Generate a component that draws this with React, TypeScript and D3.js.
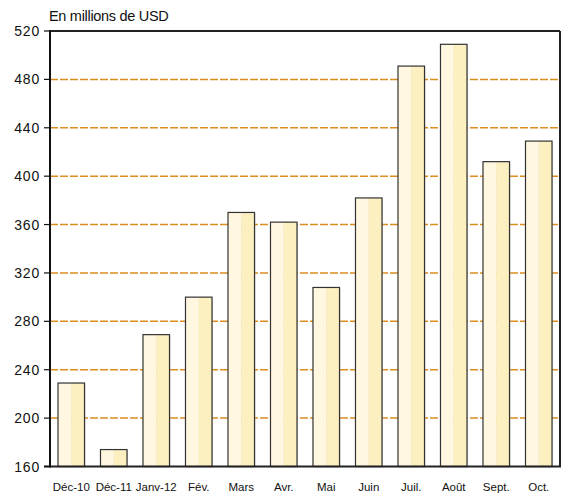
import React from "react";
import * as d3 from "d3";

const categories = ["Déc-10", "Déc-11", "Janv-12", "Fév.", "Mars", "Avr.", "Mai", "Juin", "Juil.", "Août", "Sept.", "Oct."];
const values = [229, 174, 269, 300, 370, 362, 308, 382, 491, 509, 412, 429];
const yTicks = [160, 200, 240, 280, 320, 360, 400, 440, 480, 520];
const unitLabel = "En millions de USD";

const W = 563, H = 497;
const left = 50, right = 560, top = 31, bottom = 466.5;

export default function App() {
  const x = d3.scaleBand<string>().domain(categories).range([left, right]).paddingInner(0.376).paddingOuter(0.188);
  const y = d3.scaleLinear().domain([160, 520]).range([bottom, top]);
  const bw = x.bandwidth();
  const font = "'Liberation Sans', Arial, sans-serif";
  return (
    <svg width={W} height={H} style={{ position: "absolute", left: 0, top: 0, background: "#fff" }}>
      <text x={49} y={21} fontFamily={font} fontSize={14.5} fill="#111" letterSpacing={-0.3}>{unitLabel}</text>
      {yTicks.filter(t => t !== 160 && t !== 520).map(t => (
        <line key={"g" + t} x1={left} x2={right} y1={y(t)} y2={y(t)} stroke="#db8d22" strokeWidth={1.5} strokeDasharray="8,2" />
      ))}
      {categories.map((c, i) => {
        const x0 = x(c)!;
        const y0 = y(values[i]);
        const h = bottom - y0;
        return (
          <g key={c}>
            <rect x={x0 + 1} y={y0 + 1} width={bw} height={h} fill="#999" opacity={0.35} />
            <rect x={x0} y={y0} width={bw / 2} height={h} fill="#fff7df" />
            <rect x={x0 + bw / 2} y={y0} width={bw / 2} height={h} fill="#fcefc0" />
            <rect x={x0} y={y0} width={bw} height={h} fill="none" stroke="#333" strokeWidth={1.2} />
          </g>
        );
      })}
      <line x1={left} x2={right} y1={top} y2={top} stroke="#222" strokeWidth={2} />
      <line x1={right} x2={right} y1={top} y2={bottom} stroke="#222" strokeWidth={2} />
      <line x1={44} x2={right + 1} y1={bottom} y2={bottom} stroke="#222" strokeWidth={2} />
      <line x1={left} x2={left} y1={top - 1} y2={bottom + 1} stroke="#111" strokeWidth={2} />
      {yTicks.map(t => (
        <g key={"t" + t}>
          <line x1={44} x2={left} y1={y(t)} y2={y(t)} stroke="#111" strokeWidth={1.2} />
          <text x={40} y={y(t) + 5} textAnchor="end" fontFamily={font} fontSize={14} fill="#111" letterSpacing={0.8}>{t}</text>
        </g>
      ))}
      {categories.map(c => (
        <text key={"l" + c} x={x(c)! + bw / 2} y={491} textAnchor="middle" fontFamily={font} fontSize={11.5} fill="#111">{c}</text>
      ))}
    </svg>
  );
}
